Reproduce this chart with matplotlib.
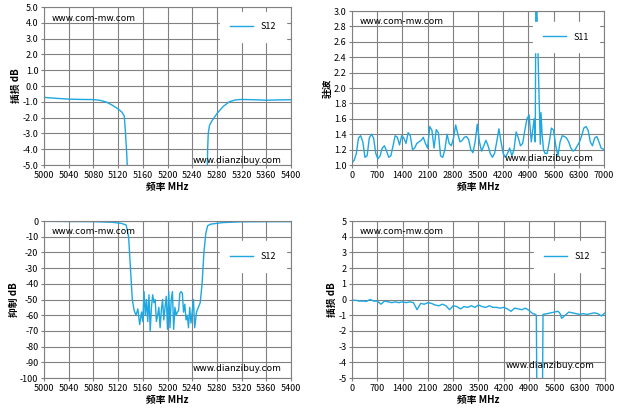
import numpy as np
import matplotlib.pyplot as plt

plt.rcParams['font.family'] = ['Noto Sans CJK SC', 'DejaVu Sans']
plt.rcParams['font.size'] = 6.5

C = '#1ea7e1'

# top-left: S12 passband view (dB)
f1 = [5000, 5020, 5040, 5060, 5080, 5090, 5100, 5110, 5120, 5126, 5130, 5132, 5134, 5135,
      5264.5, 5265, 5266, 5268, 5272, 5280, 5290, 5300, 5310, 5320, 5340, 5360, 5380, 5400]
s1 = [-0.72, -0.78, -0.83, -0.85, -0.86, -0.9, -1.0, -1.2, -1.45, -1.65, -1.9, -3.0, -4.3, -5.2,
      -5.2, -4.0, -3.0, -2.5, -2.2, -1.75, -1.3, -1.0, -0.88, -0.85, -0.87, -0.9, -0.88, -0.87]

# top-right: S11 VSWR wideband (0..4980 every 60 MHz, then the band edge points)
f2a = list(range(0, 4981, 60))
s2a = [1.03, 1.06, 1.15, 1.35, 1.38, 1.3, 1.1, 1.12, 1.35, 1.4, 1.35, 1.15, 1.08, 1.12,
       1.22, 1.25, 1.18, 1.1, 1.12, 1.25, 1.38, 1.36, 1.26, 1.38, 1.35, 1.28, 1.42, 1.38,
       1.2, 1.22, 1.28, 1.3, 1.32, 1.36, 1.28, 1.22, 1.5, 1.45, 1.22, 1.46, 1.42, 1.12,
       1.1, 1.2, 1.4, 1.28, 1.25, 1.35, 1.52, 1.4, 1.3, 1.32, 1.36, 1.37, 1.33, 1.2,
       1.16, 1.3, 1.53, 1.3, 1.18, 1.25, 1.32, 1.25, 1.15, 1.1, 1.15, 1.3, 1.47, 1.3,
       1.15, 1.1, 1.15, 1.22, 1.12, 1.2, 1.43, 1.35, 1.25, 1.28, 1.45, 1.6, 1.65, 1.3]
f2b = [5060, 5090, 5110, 5230, 5250, 5280, 5320, 5360, 5420, 5480, 5540, 5600, 5660, 5720,
       5780, 5840, 5900, 5960, 6020, 6080, 6140, 6200, 6260, 6320, 6380, 6440, 6500, 6560,
       6620, 6680, 6740, 6800, 6860, 6920, 7000]
s2b = [1.6, 1.3, 3.5, 1.27, 1.68, 1.4, 1.2, 1.15, 1.15, 1.3, 1.48, 1.45, 1.25, 1.12, 1.3,
       1.38, 1.37, 1.35, 1.3, 1.22, 1.18, 1.2, 1.25, 1.3, 1.38, 1.48, 1.5, 1.45, 1.3, 1.25,
       1.35, 1.37, 1.3, 1.22, 1.2]
f2 = f2a + f2b
s2 = s2a + s2b

# bottom-left: S12 rejection (dB)
f3 = [5000, 5040, 5080, 5110, 5125, 5133, 5137, 5140, 5143, 5146, 5149, 5152, 5155, 5158, 5160,
      5162, 5164, 5166, 5168, 5170, 5172, 5174, 5176, 5178, 5180, 5182, 5184, 5186, 5188, 5190,
      5192, 5194, 5196, 5198, 5200, 5202, 5204, 5206, 5208, 5210, 5212, 5214, 5216, 5218, 5220,
      5222, 5224, 5226, 5228, 5230, 5232, 5234, 5236, 5238, 5240, 5242, 5244, 5247, 5250, 5253,
      5256, 5259, 5262, 5265, 5270, 5290, 5320, 5360, 5400]
s3 = [-0.2, -0.3, -0.4, -0.8, -1.5, -2.5, -10, -30, -50, -57, -60, -56, -66, -58, -64, -45,
      -60, -50, -64, -47, -70, -55, -47, -52, -50, -64, -60, -55, -68, -57, -50, -63, -55, -48,
      -69, -45, -68, -50, -45, -69, -55, -60, -58, -57, -46, -45, -46, -58, -53, -63, -60, -68,
      -55, -65, -58, -50, -68, -58, -55, -52, -40, -20, -8, -3, -2, -1, -0.5, -0.4, -0.4]

# bottom-right: S12 wideband (dB)
f4 = [0, 100, 200, 300, 400, 500, 600, 700, 800, 900, 1000, 1100, 1200, 1300, 1400, 1500, 1600,
      1700, 1800, 1900, 2000, 2100, 2200, 2300, 2400, 2500, 2600, 2700, 2800, 2900, 3000, 3100,
      3200, 3300, 3400, 3500, 3600, 3700, 3800, 3900, 4000, 4100, 4200, 4300, 4400, 4500, 4600,
      4700, 4800, 4900, 5000, 5080, 5100, 5115, 5270, 5285, 5400, 5500,
      5600, 5700, 5760, 5800, 5900, 6000, 6100, 6200, 6300, 6400, 6500, 6600, 6700, 6800, 6900, 7000]
s4 = [-0.05, -0.05, -0.1, -0.1, -0.12, 0.0, -0.1, -0.1, -0.3, -0.1, -0.15, -0.2, -0.15, -0.2,
      -0.15, -0.2, -0.15, -0.2, -0.65, -0.25, -0.3, -0.2, -0.25, -0.35, -0.4, -0.3, -0.4, -0.65,
      -0.4, -0.45, -0.6, -0.45, -0.5, -0.4, -0.5, -0.35, -0.45, -0.5, -0.4, -0.5, -0.5, -0.55,
      -0.5, -0.6, -0.75, -0.55, -0.6, -0.65, -0.55, -0.7, -0.9, -0.95, -1.0, -6, -6,
      -0.95, -0.9, -0.85, -0.8, -0.75, -0.9, -1.2, -1.0, -0.8, -0.85, -0.9, -0.95, -0.9,
      -0.95, -0.9, -0.85, -0.9, -1.05, -0.85]

xt_nb = np.arange(5000, 5401, 40)
xt_wb = np.arange(0, 7001, 700)

fig = plt.figure(figsize=(6.21, 4.15), dpi=100)

def setup(ax, f, s, xticks, ylim, yticks, yfmt, ylabel, legend, leg_y, wm_y):
    ax.plot(f, s, color=C, lw=1.0, label=legend)
    ax.set_xlim(xticks[0], xticks[-1])
    ax.set_ylim(*ylim)
    ax.set_xticks(xticks)
    ax.set_yticks(yticks)
    ax.set_yticklabels([yfmt.format(v) for v in yticks])
    ax.grid(True, color='#808080', lw=0.8)
    ax.set_axisbelow(True)
    for sp in ax.spines.values():
        sp.set_color('#808080')
    ax.tick_params(length=2, color='#808080', pad=2)
    ax.set_xlabel('频率 MHz', fontweight='bold', fontsize=7, labelpad=2)
    ax.set_ylabel(ylabel, fontweight='bold', fontsize=7, labelpad=1)
    ax.legend(loc='upper right', bbox_to_anchor=(1.0, leg_y), frameon=True, fancybox=False,
              edgecolor='white', framealpha=1, fontsize=6.5, handlelength=2.5, borderpad=1.2)
    ax.text(0.03, 0.93, 'www.com-mw.com', transform=ax.transAxes, fontsize=6.5,
            family='DejaVu Sans', va='center')
    ax.text(0.96, wm_y, 'www.dianzibuy.com', transform=ax.transAxes, fontsize=6.5,
            family='DejaVu Sans', ha='right', va='center')

ax1 = fig.add_axes([44/621, 1 - 165/415, 247/621, 158/415])
setup(ax1, f1, s1, xt_nb, (-5, 5), np.arange(-5, 5.1, 1), '{:.1f}', '插损 dB', 'S12', 1.0, 0.03)

ax2 = fig.add_axes([352/621, 1 - 165/415, 252/621, 154/415])
setup(ax2, f2, s2, xt_wb, (1, 3), np.arange(1, 3.01, 0.2), '{:.1f}', '驻波', 'S11', 0.96, 0.04)

ax3 = fig.add_axes([44/621, 1 - 378/415, 247/621, 157/415])
setup(ax3, f3, s3, xt_nb, (-100, 0), np.arange(-100, 1, 10), '{:.0f}', '抑制 dB', 'S12', 0.9, 0.06)

ax4 = fig.add_axes([352/621, 1 - 378/415, 253/621, 157/415])
setup(ax4, f4, s4, xt_wb, (-5, 5), np.arange(-5, 6, 1), '{:.0f}', '插损 dB', 'S12', 0.9, 0.08)

fig.savefig('out.png', dpi=100)
